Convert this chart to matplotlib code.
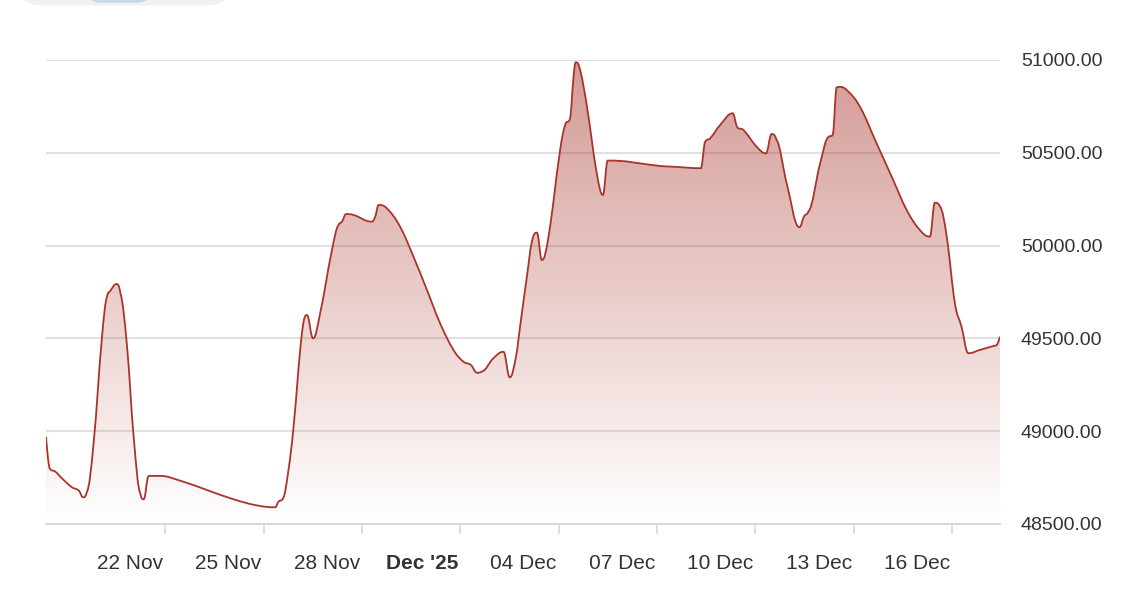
import numpy as np
import pandas as pd
import matplotlib
matplotlib.use('Agg')
import matplotlib.pyplot as plt
import matplotlib.dates as mdates
import matplotlib.transforms as mtransforms
from matplotlib.patches import FancyBboxPatch, PathPatch
from matplotlib.path import Path

plt.rcParams['font.family'] = ['Liberation Sans', 'DejaVu Sans']

# price series (timestamp, price)
times = [
    "2025-11-18 08:40", "2025-11-18 11:20", "2025-11-18 15:30", "2025-11-18 20:20",
    "2025-11-19 03:40", "2025-11-19 08:40", "2025-11-19 11:50", "2025-11-19 14:40",
    "2025-11-19 19:30", "2025-11-20 01:40", "2025-11-20 05:20", "2025-11-20 07:50",
    "2025-11-20 12:10", "2025-11-20 15:10", "2025-11-20 20:00", "2025-11-21 00:50",
    "2025-11-21 05:40", "2025-11-21 08:10", "2025-11-21 11:50", "2025-11-21 20:20",
    "2025-11-22 11:00", "2025-11-23 06:30", "2025-11-24 02:00", "2025-11-24 19:10",
    "2025-11-25 08:30", "2025-11-25 10:50", "2025-11-25 14:10", "2025-11-25 18:10",
    "2025-11-25 21:50", "2025-11-26 04:00", "2025-11-26 07:40", "2025-11-26 12:10",
    "2025-11-26 17:20", "2025-11-27 02:00", "2025-11-27 06:50", "2025-11-27 09:20",
    "2025-11-27 12:20", "2025-11-27 17:50", "2025-11-28 07:10", "2025-11-28 09:40",
    "2025-11-28 12:10", "2025-11-28 18:10", "2025-11-29 03:50", "2025-11-29 13:40",
    "2025-11-29 23:30", "2025-11-30 09:10", "2025-11-30 19:00", "2025-12-01 02:20",
    "2025-12-01 07:40", "2025-12-01 12:10", "2025-12-01 15:40", "2025-12-02 00:10",
    "2025-12-02 07:30", "2025-12-02 12:10", "2025-12-02 16:40", "2025-12-02 19:50",
    "2025-12-03 00:40", "2025-12-03 04:20", "2025-12-03 08:00", "2025-12-03 11:40",
    "2025-12-03 16:30", "2025-12-04 01:00", "2025-12-04 04:40", "2025-12-04 08:20",
    "2025-12-04 10:50", "2025-12-04 12:30", "2025-12-04 15:40", "2025-12-04 20:40",
    "2025-12-05 03:50", "2025-12-05 08:20", "2025-12-05 11:50", "2025-12-05 20:50",
    "2025-12-06 11:40", "2025-12-07 02:10", "2025-12-07 11:50", "2025-12-08 08:00",
    "2025-12-08 11:10", "2025-12-08 14:50", "2025-12-08 22:10", "2025-12-09 07:20",
    "2025-12-09 10:40", "2025-12-09 15:10", "2025-12-10 00:50", "2025-12-10 07:40",
    "2025-12-10 11:50", "2025-12-10 15:30", "2025-12-10 22:50", "2025-12-11 08:10",
    "2025-12-11 11:40", "2025-12-11 14:40", "2025-12-11 23:20", "2025-12-12 05:20",
    "2025-12-12 08:30", "2025-12-12 11:30", "2025-12-12 13:50", "2025-12-12 18:50",
    "2025-12-13 04:30", "2025-12-13 16:40", "2025-12-14 04:50", "2025-12-14 14:40",
    "2025-12-15 00:20", "2025-12-15 07:40", "2025-12-15 11:20", "2025-12-15 15:10",
    "2025-12-15 20:00", "2025-12-16 02:00", "2025-12-16 06:50", "2025-12-16 11:50",
    "2025-12-16 20:20", "2025-12-17 06:10", "2025-12-17 08:30", "2025-12-17 11:00",
]
prices = [
    48970, 48800, 48782, 48746, 48698, 48680, 48644, 48674,
    48935, 49509, 49725, 49757, 49793, 49743, 49455, 48970,
    48665, 48633, 48759, 48759, 48733, 48683, 48633, 48600,
    48590, 48620, 48638, 48791, 49020, 49527, 49626, 49500,
    49635, 49976, 50111, 50129, 50170, 50165, 50129, 50156,
    50219, 50201, 50102, 49940, 49761, 49581, 49437, 49374,
    49357, 49315, 49321, 49393, 49428, 49290, 49400, 49572,
    49832, 50021, 50070, 49922, 50048, 50515, 50650, 50686,
    50910, 50988, 50946, 50748, 50390, 50273, 50458, 50456,
    50443, 50429, 50425, 50417, 50560, 50578, 50650, 50713,
    50637, 50623, 50533, 50497, 50601, 50569, 50336, 50099,
    50159, 50183, 50443, 50584, 50596, 50853, 50855, 50838,
    50748, 50551, 50353, 50192, 50084, 50048, 50231, 50210,
    50048, 49689, 49563, 49420, 49438, 49459, 49464, 49509,
]

tick_dates = ["2025-11-22", "2025-11-25", "2025-11-28", "2025-12-01", "2025-12-04",
              "2025-12-07", "2025-12-10", "2025-12-13", "2025-12-16"]
tick_labels = ["22 Nov", "25 Nov", "28 Nov", "Dec '25", "04 Dec",
               "07 Dec", "10 Dec", "13 Dec", "16 Dec"]
y_ticks = [48500, 49000, 49500, 50000, 50500, 51000]

line_color = '#a8342a'
grid_color = '#e0e0e0'
text_color = '#333333'


def spline_path(xs, ys):
    # smooth bezier path through the points (spline-style control points)
    n = len(xs)
    left = [(xs[i], ys[i]) for i in range(n)]
    right = [(xs[i], ys[i]) for i in range(n)]
    for i in range(1, n - 1):
        px, py = xs[i - 1], ys[i - 1]
        cx, cy = xs[i], ys[i]
        nx, ny = xs[i + 1], ys[i + 1]
        lx, ly = (1.5 * cx + px) / 2.5, (1.5 * cy + py) / 2.5
        rx, ry = (1.5 * cx + nx) / 2.5, (1.5 * cy + ny) / 2.5
        if rx != lx:
            corr = (ry - ly) * (rx - cx) / (rx - lx) + cy - ry
            ly += corr
            ry += corr
        if ly > max(py, cy):
            ly = max(py, cy)
            ry = 2 * cy - ly
        elif ly < min(py, cy):
            ly = min(py, cy)
            ry = 2 * cy - ly
        if ry > max(ny, cy):
            ry = max(ny, cy)
            ly = 2 * cy - ry
        elif ry < min(ny, cy):
            ry = min(ny, cy)
            ly = 2 * cy - ry
        left[i] = (lx, ly)
        right[i] = (rx, ry)
    verts = [(xs[0], ys[0])]
    codes = [Path.MOVETO]
    for i in range(1, n):
        verts += [right[i - 1], left[i], (xs[i], ys[i])]
        codes += [Path.CURVE4] * 3
    return verts, codes


x = mdates.date2num(pd.to_datetime(times))
y = np.array(prices, dtype=float)
ymin, ymax = 48500, 51000

fig = plt.figure(figsize=(11.46, 6.10), dpi=100)
ax = fig.add_axes([46 / 1146, 86 / 610, 954 / 1146, 464 / 610])

# gridlines
for v in y_ticks:
    ax.axhline(v, color=grid_color, lw=1.4, zorder=0)

verts, codes = spline_path(list(x), list(y))
line_path = Path(verts, codes)
area_path = Path(verts + [(x[-1], ymin), (x[0], ymin), (x[0], y[0])],
                 codes + [Path.LINETO, Path.LINETO, Path.CLOSEPOLY])

# gradient fill clipped to the area under the line
grad = np.zeros((256, 1, 4))
r, g, b = matplotlib.colors.to_rgb(line_color)
grad[:, 0, 0], grad[:, 0, 1], grad[:, 0, 2] = r, g, b
grad[:, 0, 3] = np.linspace(0.0, 0.5, 256)
img = ax.imshow(grad, extent=[x[0], x[-1], ymin, ymax], origin='lower',
                aspect='auto', zorder=1, interpolation='bilinear')
img.set_clip_path(area_path, transform=ax.transData)

ax.add_patch(PathPatch(line_path, fc='none', ec=line_color, lw=1.3,
                       joinstyle='round', zorder=3))

ax.set_xlim(x[0], x[-1])
ax.set_ylim(ymin, ymax)

for s in ['top', 'left', 'right']:
    ax.spines[s].set_visible(False)
ax.spines['bottom'].set_color('#d8d8d8')
ax.spines['bottom'].set_linewidth(1.4)

ax.set_xticks(mdates.date2num(pd.to_datetime(tick_dates)))
ax.set_xticklabels(tick_labels)
ax.tick_params(axis='x', length=7.5, width=1.2, color='#d8d8d8', pad=14,
               labelsize=15, labelcolor=text_color)
shift = mtransforms.ScaledTranslation(-2 / 100, 0, fig.dpi_scale_trans)
for lab in ax.get_xticklabels():
    lab.set_horizontalalignment('right')
    lab.set_transform(lab.get_transform() + shift)
    if lab.get_text() == "Dec '25":
        lab.set_fontweight('bold')

ax.yaxis.tick_right()
ax.set_yticks(y_ticks)
ax.set_yticklabels([f"{v:.2f}" for v in y_ticks])
ax.tick_params(axis='y', length=0, pad=15, labelsize=14, labelcolor=text_color)

# range-selector remnant at the top-left edge
fig.patches.append(FancyBboxPatch((22 / 1146, 1 - 5.5 / 610), 205 / 1146, 40 / 610,
                                  boxstyle='round,pad=0,rounding_size=0.02',
                                  transform=fig.transFigure, fc='#f0f1f5', ec='none'))
fig.patches.append(FancyBboxPatch((90 / 1146, 1 - 2.7 / 610), 58 / 1146, 40 / 610,
                                  boxstyle='round,pad=0,rounding_size=0.01',
                                  transform=fig.transFigure, fc='#c9d7ea', ec='none'))

fig.savefig('out.png', dpi=100)
